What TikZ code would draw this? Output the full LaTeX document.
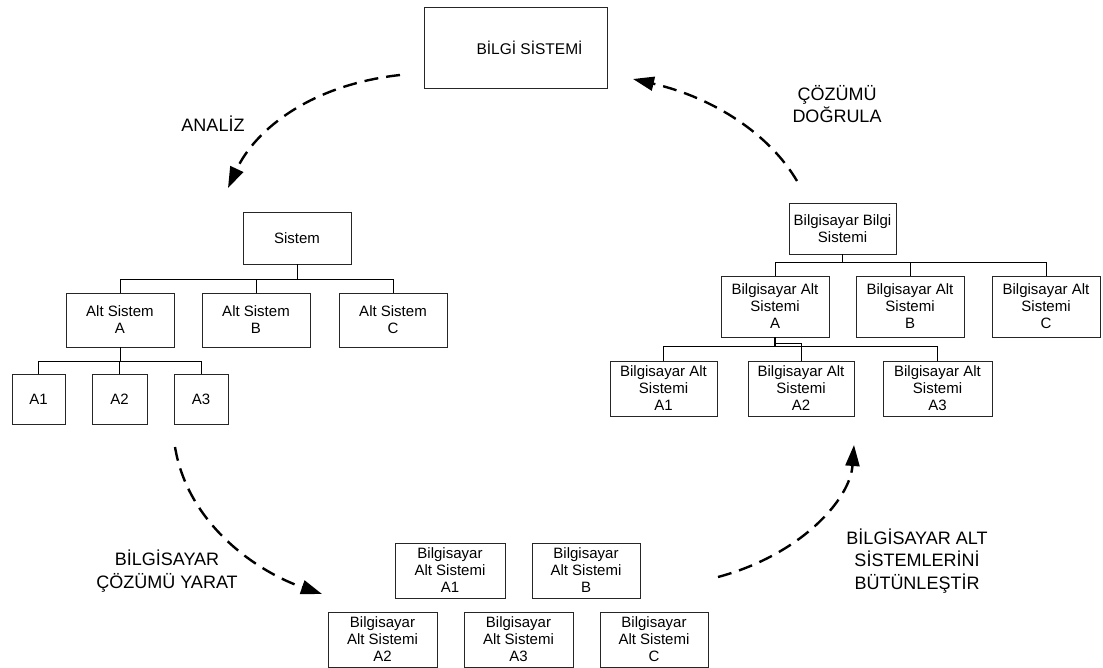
\documentclass[tikz,border=0pt]{standalone}
\usepackage{fontspec}
\setmainfont{Liberation Sans}
\usetikzlibrary{arrows.meta,calc}
\begin{document}
\begin{tikzpicture}[x=1pt,y=-1pt,
  box/.style={draw=black!85, line width=0.9pt, inner sep=0pt, align=center,
    font=\fontsize{15}{17}\selectfont},
  tree/.style={draw=black, line width=0.9pt},
  flow/.style={line width=2.4pt, dash pattern=on 14pt off 8pt,
    -{Triangle[length=21pt,width=14pt]}},
  lbl/.style={align=center, font=\fontsize{18}{22.5}\selectfont}]
\useasboundingbox (0,0) rectangle (1103,668);

% top
\node[box, minimum width=183pt, minimum height=81pt, font=\fontsize{15.5}{17}\selectfont]
  (bs) at (515.5,47.5) {\hspace*{28pt}BİLGİ SİSTEMİ};

% left hierarchy
\node[box, minimum width=108pt, minimum height=52pt] (sis) at (297,238) {Sistem};
\node[box, minimum width=108pt, minimum height=54pt] (altA) at (120,320) {Alt Sistem\\A};
\node[box, minimum width=108pt, minimum height=54pt] (altB) at (256,320) {Alt Sistem\\B};
\node[box, minimum width=108pt, minimum height=54pt] (altC) at (393,320) {Alt Sistem\\C};
\node[box, minimum width=53pt, minimum height=50pt] (a1) at (38.5,399) {A1};
\node[box, minimum width=55pt, minimum height=50pt] (a2) at (119.5,399) {A2};
\node[box, minimum width=54pt, minimum height=50pt] (a3) at (201,399) {A3};

\coordinate (busL1) at (0,279);
\coordinate (busL2) at (0,361);
\draw[tree] (sis.south) -- (sis.south |- busL1) -| (altA.north);
\draw[tree] (sis.south |- busL1) -| (altC.north);
\draw[tree] (altB.north) -- (altB.north |- busL1);
\draw[tree] (altA.south) -- (altA.south |- busL2) -| (a1.north);
\draw[tree] (altA.south |- busL2) -| (a3.north);
\draw[tree] (a2.north) -- (a2.north |- busL2);

% right hierarchy
\node[box, minimum width=107pt, minimum height=51pt] (bbs) at (842.5,228.5) {Bilgisayar Bilgi\\Sistemi};
\node[box, minimum width=108pt, minimum height=61pt] (basA) at (775,306.5) {Bilgisayar Alt\\Sistemi\\A};
\node[box, minimum width=108pt, minimum height=61pt] (basB) at (910,306.5) {Bilgisayar Alt\\Sistemi\\B};
\node[box, minimum width=108pt, minimum height=61pt] (basC) at (1046,306.5) {Bilgisayar Alt\\Sistemi\\C};
\node[box, minimum width=107pt, minimum height=55pt] (basA1) at (663.5,388.5) {Bilgisayar Alt\\Sistemi\\A1};
\node[box, minimum width=106pt, minimum height=55pt] (basA2) at (801,388.5) {Bilgisayar Alt\\Sistemi\\A2};
\node[box, minimum width=109pt, minimum height=55pt] (basA3) at (937.5,388.5) {Bilgisayar Alt\\Sistemi\\A3};

\coordinate (busR1) at (0,262);
\coordinate (busR2) at (0,346);
\coordinate (jog) at (0,343);
\draw[tree, line width=1.8pt] (bbs.south) -- (bbs.south |- busR1);
\draw[tree] (bbs.south |- busR1) -| (basA.north);
\draw[tree] (bbs.south |- busR1) -| (basC.north);
\draw[tree] (basB.north) -- (basB.north |- busR1);
\draw[tree, line width=1.8pt] (basA.south) -- (basA.south |- busR2);
\draw[tree] (basA.south |- busR2) -| (basA1.north);
\draw[tree] (basA.south |- busR2) -| (basA3.north);
\draw[tree] (basA.south |- jog) -| (basA2.north);

% bottom group
\node[box, minimum width=110pt, minimum height=55pt] (ba1) at (450,570.5) {Bilgisayar\\Alt Sistemi\\A1};
\node[box, minimum width=108pt, minimum height=55pt] (bb) at (586,570.5) {Bilgisayar\\Alt Sistemi\\B};
\node[box, minimum width=109pt, minimum height=55pt] (ba2) at (382.5,639.5) {Bilgisayar\\Alt Sistemi\\A2};
\node[box, minimum width=109pt, minimum height=55pt] (ba3) at (518.5,639.5) {Bilgisayar\\Alt Sistemi\\A3};
\node[box, minimum width=108pt, minimum height=55pt] (bc) at (654,639.5) {Bilgisayar\\Alt Sistemi\\C};

% process arrows
\coordinate (anS) at (400,75);   \coordinate (anE) at (228,188);
\coordinate (ycS) at (175,447);  \coordinate (ycE) at (322,594);
\coordinate (btS) at (718,577);  \coordinate (btE) at (854,445);
\coordinate (dgS) at (797,181);  \coordinate (dgE) at (633,79);

\draw[flow] (anS) .. controls (310,85) and (255,130) .. (anE);
\draw[flow] (ycS) .. controls (188,525) and (258,572) .. (ycE);
\draw[flow] (btS) .. controls (800,555) and (850,500) .. (btE);
\draw[flow] (dgS) .. controls (770,135) and (715,98) .. (dgE);

\node[lbl] (lan) at (213,124) {ANALİZ};
\node[lbl] (lyc) at (167,571) {BİLGİSAYAR\\ÇÖZÜMÜ YARAT};
\node[lbl] (lbt) at (917,561) {BİLGİSAYAR ALT\\SİSTEMLERİNİ\\BÜTÜNLEŞTİR};
\node[lbl] (ldg) at (837,104) {ÇÖZÜMÜ\\DOĞRULA};
\end{tikzpicture}
\end{document}
